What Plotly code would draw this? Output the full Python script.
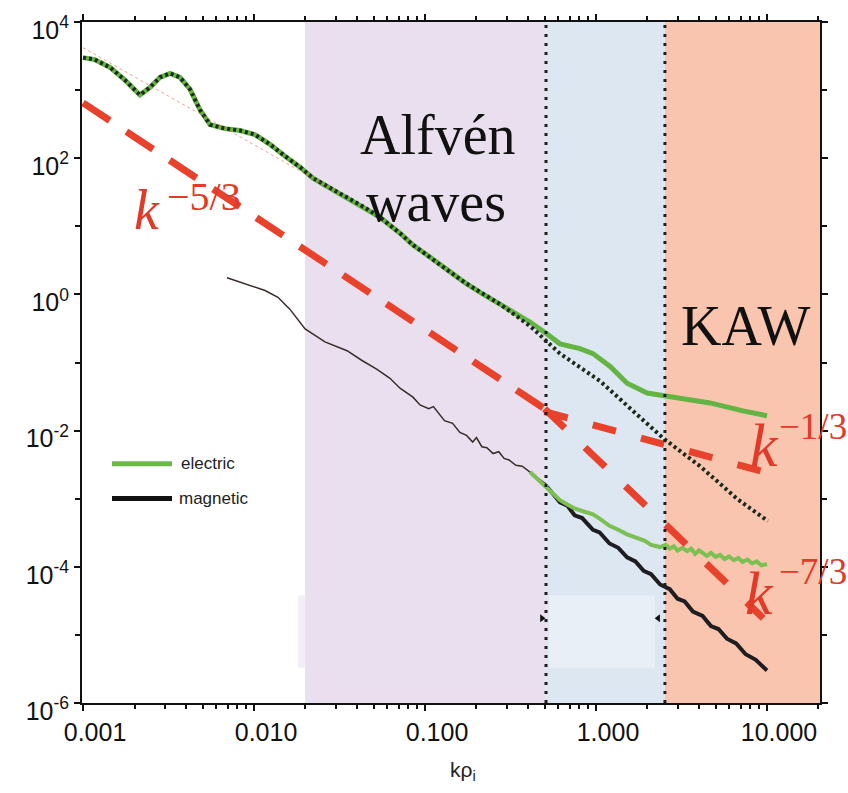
import plotly.graph_objects as go

# ---- spectra: wavenumber k*rho_i and power ----
# large-scale electric spectrum (green)
e_top_k = [0.0010, 0.00117, 0.00144, 0.00176, 0.00215, 0.00247, 0.00282, 0.00323, 0.00369,
           0.00422, 0.00483, 0.00553, 0.00677, 0.00828, 0.0101, 0.0124, 0.0152, 0.0186,
           0.0221, 0.0278, 0.0350, 0.0446, 0.0546, 0.0714, 0.0851, 0.0973, 0.1345, 0.171,
           0.210, 0.275, 0.411, 0.517, 0.616, 0.806, 0.960, 1.21, 1.52, 1.99, 2.60, 3.55,
           4.64, 7.24, 10.0]
e_top_p = [3000, 2810, 2150, 1400, 850, 1100, 1540, 1760, 1540,
           1030, 513, 311, 272, 255, 223, 160, 107, 74,
           51, 36.7, 26.3, 18.8, 13.5, 7.9, 5.3, 4.2, 2.3, 1.49,
           1.07, 0.716, 0.393, 0.263, 0.188, 0.160, 0.135, 0.0875, 0.0497, 0.0356, 0.0321, 0.0281,
           0.0255, 0.0195, 0.0165]

# large-scale magnetic spectrum (black, dotted markers)
b_top_k = [0.0010, 0.00117, 0.00144, 0.00176, 0.00215, 0.00247, 0.00282, 0.00323, 0.00369,
           0.00422, 0.00483, 0.00553, 0.00677, 0.00828, 0.0101, 0.0124, 0.0152, 0.0186,
           0.0221, 0.0278, 0.0350, 0.0446, 0.0546, 0.0714, 0.0851, 0.0973, 0.1345, 0.171,
           0.210, 0.275, 0.411, 0.616, 1.055, 1.81, 2.46, 4.06, 6.68, 10.1]
b_top_p = [3000, 2810, 2150, 1400, 850, 1100, 1540, 1760, 1540,
           1030, 513, 311, 272, 255, 223, 160, 107, 74,
           51, 36.7, 26.3, 18.8, 13.5, 7.9, 5.3, 4.2, 2.3, 1.49,
           1.07, 0.716, 0.344, 0.135, 0.0535, 0.0155, 0.0078, 0.0030, 0.0010, 0.00047]

# small-scale magnetic spectrum, inertial part (thin line)
b_low_k = [0.00695, 0.00886, 0.0116, 0.0138, 0.0162, 0.0199, 0.0260, 0.0350, 0.0428, 0.0524,
           0.0624, 0.0714, 0.0850, 0.0935, 0.105, 0.112, 0.13, 0.145, 0.16, 0.175, 0.19, 0.20,
           0.215, 0.23, 0.25, 0.27, 0.29, 0.31, 0.34, 0.37, 0.41, 0.45, 0.517]
b_low_p = [1.76, 1.44, 1.14, 0.906, 0.607, 0.311, 0.201, 0.149, 0.107, 0.0792,
           0.0586, 0.042, 0.031, 0.0238, 0.021, 0.0225, 0.0140, 0.0128, 0.0094, 0.0085, 0.0068, 0.0079,
           0.0058, 0.0056, 0.0046, 0.0049, 0.0039, 0.0037, 0.0031, 0.0030, 0.00246, 0.0021, 0.0016]

# small-scale magnetic spectrum, dissipation range (thick noisy line)
b_high_k = [0.517, 0.56, 0.616, 0.68, 0.75, 0.83, 0.96, 1.05, 1.2, 1.35, 1.52, 1.7, 1.9, 2.1,
            2.37, 2.7, 3.0, 3.3, 3.69, 4.2, 4.7, 5.2, 5.83, 6.6, 7.5, 8.6, 10.0]
b_high_p = [1.5e-3, 1.15e-3, 8.8e-4, 7.9e-4, 5.7e-4, 5.2e-4, 3.5e-4, 3.2e-4, 2.2e-4, 1.9e-4,
            1.38e-4, 1.2e-4, 8.7e-5, 7.8e-5, 5.5e-5, 4.7e-5, 3.4e-5, 3.1e-5, 2.2e-5, 1.9e-5,
            1.35e-5, 1.22e-5, 8.8e-6, 7.5e-6, 5.2e-6, 4.3e-6, 3.0e-6]

# small-scale electric spectrum (green, noisy)
e_low_k = [0.411, 0.517, 0.56, 0.616, 0.68, 0.75, 0.83, 0.96, 1.05, 1.2, 1.35, 1.52, 1.7, 1.93,
           2.1, 2.37, 2.55, 2.7, 2.85, 3.0, 3.2, 3.41, 3.6, 3.8, 4.0, 4.2, 4.45, 4.7, 5.0, 5.31,
           5.65, 6.0, 6.4, 6.8, 7.2, 7.7, 8.2, 8.7, 9.3, 10.0]
e_low_p = [2.46e-3, 1.45e-3, 1.2e-3, 9.5e-4, 8.2e-4, 7.2e-4, 6.6e-4, 5.9e-4, 5.1e-4, 4.0e-4,
           3.5e-4, 3.0e-4, 2.7e-4, 2.4e-4, 2.1e-4, 1.95e-4, 2.1e-4, 1.85e-4, 2.0e-4, 1.72e-4,
           1.9e-4, 1.7e-4, 1.85e-4, 1.55e-4, 1.75e-4, 1.6e-4, 1.45e-4, 1.6e-4, 1.4e-4, 1.5e-4,
           1.3e-4, 1.42e-4, 1.25e-4, 1.35e-4, 1.18e-4, 1.28e-4, 1.12e-4, 1.2e-4, 1.05e-4, 1.1e-4]

# thin fit along the low-k spectrum
fit_k = [0.0010, 0.0156, 0.030]
fit_p = [4200, 85, 33]

# power-law guides
guide53_k = [0.0010, 0.50]
guide53_p = [650, 0.021]
guide13_k = [0.50, 10.7]
guide13_p = [0.019, 0.0023]
guide73_k = [0.50, 9.5]
guide73_p = [0.021, 1.76e-5]

# regime boundaries
alfven_lo, alfven_hi, kaw_lo, kaw_hi = 0.0199, 0.510, 2.53, 21.0

x_ticks = [0.001, 0.01, 0.1, 1, 10]
x_labels = ["0.001", "0.010", "0.100", "1.000", "10.000"]
y_ticks = [1e-6, 1e-4, 1e-2, 1, 1e2, 1e4]
y_labels = ["10<sup>-6</sup>", "10<sup>-4</sup>", "10<sup>-2</sup>", "10<sup>0</sup>",
            "10<sup>2</sup>", "10<sup>4</sup>"]

GREEN = "#63B443"
RED = "#E8412C"
TXT_RED = "#E03A28"

fig = go.Figure()

# shaded regimes
fig.add_vrect(x0=alfven_lo, x1=alfven_hi, fillcolor="#E9DFEF", line_width=0, layer="below")
fig.add_vrect(x0=alfven_hi, x1=kaw_lo, fillcolor="#DDE7F1", line_width=0, layer="below")
fig.add_vrect(x0=kaw_lo, x1=kaw_hi, fillcolor="#F9C5AE", line_width=0, layer="below")
fig.add_shape(type="rect", x0=0.53, x1=2.21, y0=3.3e-6, y1=3.8e-5, fillcolor="rgba(255,255,255,0.35)",
              line_width=0, layer="below")
fig.add_shape(type="rect", x0=0.0181, x1=alfven_lo, y0=3.3e-6, y1=3.8e-5, fillcolor="#F3EEF6",
              line_width=0, layer="below")

# regime separators
for xv in (alfven_hi, kaw_lo):
    fig.add_shape(type="line", x0=xv, x1=xv, y0=0, y1=1, yref="paper",
                  line=dict(color="#1E1E1E", width=3, dash="3px,6px"))

fig.add_trace(go.Scatter(x=e_top_k, y=e_top_p, mode="lines", name="electric",
                         line=dict(color=GREEN, width=5)))
fig.add_trace(go.Scatter(x=b_top_k, y=b_top_p, mode="lines", name="magnetic",
                         line=dict(color="#1C2A1C", width=4, dash="3px,3px")))
fig.add_trace(go.Scatter(x=b_low_k, y=b_low_p, mode="lines", name="magnetic",
                         line=dict(color="#3A2B2B", width=1.5)))
fig.add_trace(go.Scatter(x=b_high_k, y=b_high_p, mode="lines", name="magnetic",
                         line=dict(color="#1E1E22", width=4)))
fig.add_trace(go.Scatter(x=e_low_k, y=e_low_p, mode="lines", name="electric",
                         line=dict(color="#7CBF52", width=4)))
fig.add_trace(go.Scatter(x=fit_k, y=fit_p, mode="lines", name="fit",
                         line=dict(color="rgba(230,80,60,0.55)", width=1, dash="dot")))

for gk, gp, dash in ((guide53_k, guide53_p, "32px,20px"),
                     (guide13_k, guide13_p, "24px,26px"),
                     (guide73_k, guide73_p, "28px,28px")):
    fig.add_trace(go.Scatter(x=gk, y=gp, mode="lines", line=dict(color=RED, width=7, dash=dash)))

fig.add_trace(go.Scatter(x=[0.483, 2.31], y=[1.76e-5, 1.76e-5], mode="markers",
                         marker=dict(symbol=["triangle-right", "triangle-left"], size=7, color="#111")))

# pixel -> paper helpers for text placement
W0, W1, H0, H1 = 82, 820, 14, 703
def px(x):
    return (x - W0) / (W1 - W0)
def py(y):
    return (H1 - y) / (H1 - H0)

SERIF = "Liberation Serif"
SANS = "Liberation Sans"
ann = []
def text(t, x, y, size, color="#111", family=SERIF, xanchor="center"):
    ann.append(dict(text=t, x=px(x), y=py(y), xref="paper", yref="paper", showarrow=False,
                    xanchor=xanchor, yanchor="middle", font=dict(family=family, size=size, color=color)))

text("Alfvén", 358, 128, 56, xanchor="left")
text("waves", 364, 196, 56, xanchor="left")
text("KAW", 745, 322, 56)
text("<i>k</i>", 147, 204, 56, TXT_RED)
text("−5/3", 204, 191, 40, TXT_RED)
text("<i>k</i>", 764, 442, 62, TXT_RED)
text("−1/3", 777, 423, 37, TXT_RED, xanchor="left")
text("<i>k</i>", 759, 592, 62, TXT_RED)
text("−7/3", 777, 570, 37, TXT_RED, xanchor="left")
text("electric", 179, 461, 17, "#222", SANS, xanchor="left")
text("magnetic", 177, 496, 17, "#222", SANS, xanchor="left")
text("kρ<sub>i</sub>", 463, 772, 21, "#222", SANS)
fig.update_layout(annotations=ann)

# hand-drawn legend swatches
for yy, col in ((461, "#6DB84A"), (496, "#111")):
    fig.add_shape(type="line", xref="paper", yref="paper", x0=px(112), x1=px(172),
                  y0=py(yy), y1=py(yy), line=dict(color=col, width=5))

minor_x = [m * 10 ** e for e in range(-4, 2) for m in range(2, 10)]
fig.update_xaxes(type="log", range=[-3.006, 1.310], tickvals=x_ticks, ticktext=x_labels,
                 ticks="outside", ticklen=6, tickwidth=2, tickcolor="#111",
                 showline=True, linecolor="#111", linewidth=2, mirror="ticks",
                 showgrid=False, zeroline=False, ticklabelshift=12,
                 tickfont=dict(family=SANS, size=25, color="#111"),
                 minor=dict(tickvals=minor_x, ticks="outside", ticklen=4, tickcolor="#111", showgrid=False))
fig.update_yaxes(type="log", range=[-6, 4], tickvals=y_ticks, ticktext=y_labels,
                 ticks="outside", ticklen=6, tickwidth=2, tickcolor="#111",
                 showline=True, linecolor="#111", linewidth=2, mirror="ticks",
                 showgrid=False, zeroline=False, ticklabelshift=8,
                 tickfont=dict(family=SANS, size=25, color="#111"),
                 minor=dict(tickvals=[1e-5, 1e-3, 1e-1, 1e1, 1e3], ticks="outside", ticklen=5,
                            tickcolor="#111", showgrid=False))

fig.update_layout(width=848, height=793, margin=dict(l=W0, r=848 - W1, t=H0, b=793 - H1),
                  paper_bgcolor="white", plot_bgcolor="white", showlegend=False)

fig.write_html("out.html")
